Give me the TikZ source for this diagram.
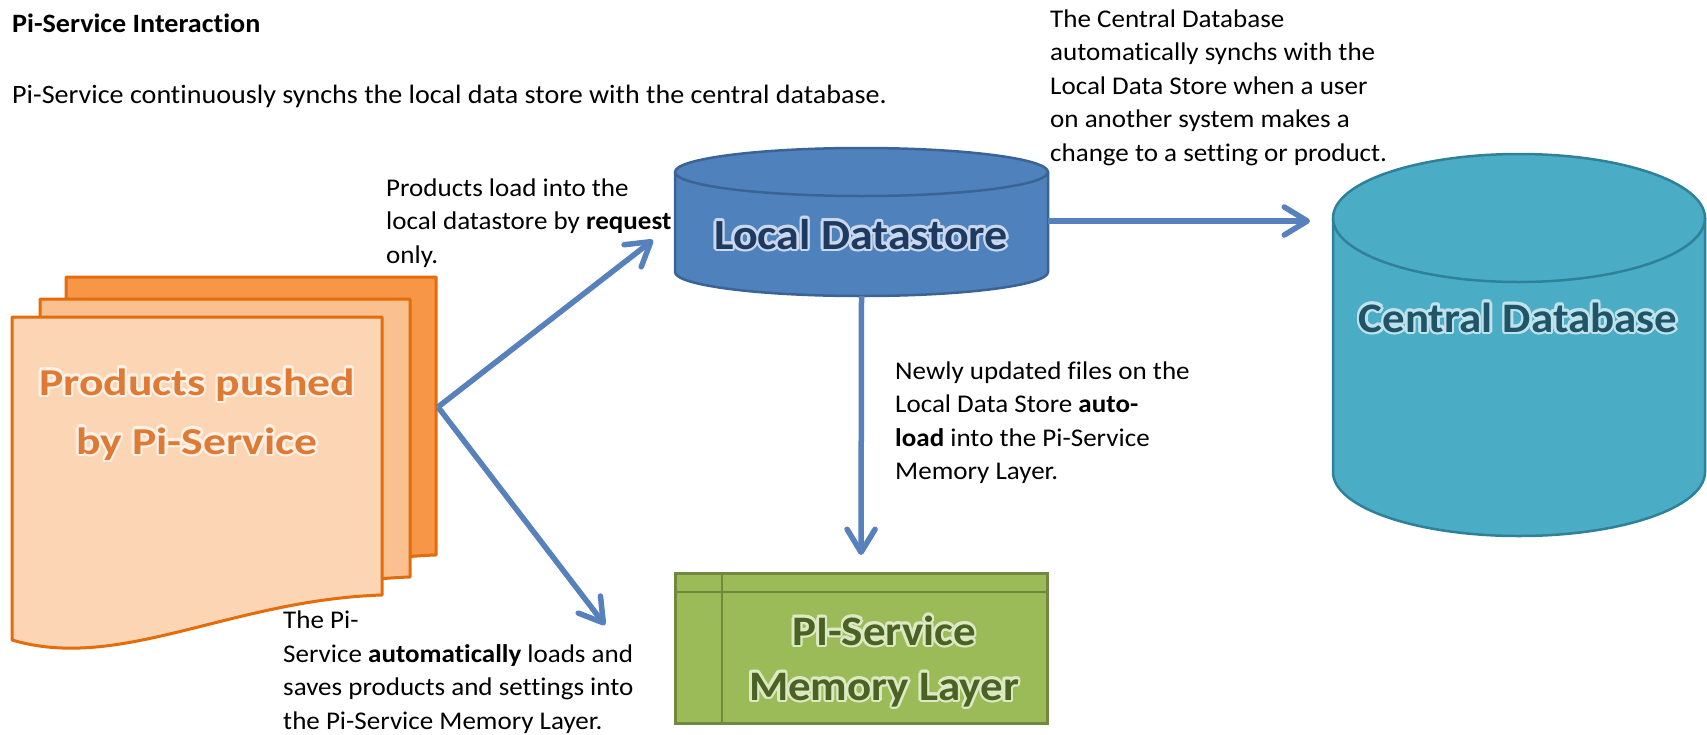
\documentclass[tikz,border=0pt]{standalone}
\usepackage{fontspec}
\usetikzlibrary{arrows.meta,calc}
\setmainfont{Carlito}[FakeStretch=1.06, Ligatures=NoCommon]
\newfontfamily\prodfont{Carlito}[FakeStretch=1.2, Ligatures=NoCommon]
\newfontfamily\shapefont{Carlito}[FakeStretch=1.07, Ligatures=NoCommon]

\definecolor{docBack}{HTML}{F79646}
\definecolor{docMid}{HTML}{FAC090}
\definecolor{docFront}{HTML}{FCD5B4}
\definecolor{docLine}{HTML}{E46C0A}
\definecolor{docText}{HTML}{DF7A35}
\definecolor{docGlow}{HTML}{FFF1E6}
\definecolor{localFill}{HTML}{4F81BD}
\definecolor{localLine}{HTML}{3A6396}
\definecolor{localText}{HTML}{1F3A60}
\definecolor{localGlow}{HTML}{C9D8EE}
\definecolor{centralFill}{HTML}{4BACC6}
\definecolor{centralLine}{HTML}{2F8199}
\definecolor{centralText}{HTML}{1F5566}
\definecolor{centralGlow}{HTML}{BFE3EC}
\definecolor{memFill}{HTML}{9BBB59}
\definecolor{memLine}{HTML}{71893F}
\definecolor{memText}{HTML}{4A6223}
\definecolor{memGlow}{HTML}{DDE9C3}
\definecolor{arrowBlue}{HTML}{5681BC}

% label with a soft halo: x,y of last baseline, name, font, halo colour, text colour, text
\newcommand\glowlabel[6]{%
  \foreach \ang in {0,30,...,330}
    \node[inner sep=0, anchor=base, font=#3, text=#4, align=center]
      at ([shift={(\ang:2.4pt)}]#1) {#6};
  \node[inner sep=0, anchor=base, font=#3, text=#5, align=center] (#2) at (#1) {#6};
}

\begin{document}
\begin{tikzpicture}[x=1pt, y=-1pt,
  bodytext/.style={inner sep=0, anchor=base west, align=left,
    font=\fontsize{26.5}{33.5}\selectfont},
  notetext/.style={bodytext, font=\fontsize{25.5}{33.5}\selectfont},
  flow/.style={draw=arrowBlue, line width=5.5pt,
    -{Straight Barb[length=23pt, width=28pt, round]}},
  pagebox/.style={draw=docLine, line width=3pt, line join=round},
  area/.style={inner sep=0, outer sep=0}]

\useasboundingbox[fill=white] (0,0) rectangle (1707,734);

% ---- title and intro ----
\node[bodytext, font=\fontsize{26.5}{33.5}\selectfont\bfseries] (title) at (12,32) {Pi-Service Interaction};
\node[bodytext] (intro) at (12,103) {Pi-Service continuously synchs the local data store with the central database.};

% ---- stack of product pages ----
\def\pagepath{(12,317) -- (382,317) -- (382,595) .. controls (230,600) and (120,672) .. (12,640) -- cycle}
\begin{scope}[shift={(54,-40)}]
  \filldraw[pagebox, fill=docBack] \pagepath;
\end{scope}
\begin{scope}[shift={(28,-18)}]
  \filldraw[pagebox, fill=docMid] \pagepath;
\end{scope}
\filldraw[pagebox, fill=docFront] \pagepath;
\coordinate (stack) at (438,407);
\glowlabel{197,454}{products}{\fontsize{38}{59}\selectfont\prodfont\bfseries}{docGlow}{docText}{Products pushed\\by Pi-Service}

% ---- local datastore cylinder ----
\node[area, minimum width=373pt, minimum height=148pt] (local) at (861.5,222) {};
\filldraw[fill=localFill, draw=localLine, line width=2.5pt]
  (675,172) -- (675,272)
  arc[start angle=180, end angle=360, x radius=186.5pt, y radius=24pt]
  -- (1048,172)
  arc[start angle=0, end angle=180, x radius=186.5pt, y radius=24pt] -- cycle;
\draw[localLine, line width=2.5pt]
  (675,172) arc[start angle=180, end angle=360, x radius=186.5pt, y radius=24pt];
\glowlabel{861,249}{localtxt}{\fontsize{43}{50}\selectfont\shapefont\bfseries}{localGlow}{localText}{Local Datastore}

% ---- central database cylinder ----
\node[area, minimum width=372pt, minimum height=382pt] (central) at (1519,345) {};
\filldraw[fill=centralFill, draw=centralLine, line width=2.5pt]
  (1333,218) -- (1333,472)
  arc[start angle=180, end angle=360, x radius=186pt, y radius=64pt]
  -- (1705,218)
  arc[start angle=0, end angle=180, x radius=186pt, y radius=64pt] -- cycle;
\draw[centralLine, line width=2.5pt]
  (1333,218) arc[start angle=180, end angle=360, x radius=186pt, y radius=64pt];
\glowlabel{1518,332}{centraltxt}{\fontsize{42}{50}\selectfont\shapefont\bfseries}{centralGlow}{centralText}{Central Database}

% ---- memory layer ----
\node[area, draw=memLine, fill=memFill, line width=3pt, minimum width=372pt, minimum height=150pt] (memory) at (861,648) {};
\draw[memLine, line width=2.5pt] (memory.north west |- 0,592) -- (memory.north east |- 0,592);
\draw[memLine, line width=2.5pt] (722,573) -- (722,723);
\glowlabel{884,700}{memtxt}{\fontsize{42}{55}\selectfont\shapefont\bfseries}{memGlow}{memText}{PI-Service\\Memory Layer}

% ---- connectors ----
\draw[flow] (stack) -- ([shift={(-22,18)}]local.west);
\draw[flow] (stack) -- ([shift={(-70,52)}]memory.north west);
\draw[flow, shorten >=23pt] ([yshift=1pt]local.east) -- ([yshift=1pt]local.east -| central.west);
\draw[flow, shorten >=18pt] (local.south) -- (memory.north);

% ---- annotations (placed by the baseline of their last line) ----
\node[notetext] (noteRequest) at (386,263)
  {Products load into the\\local datastore by \textbf{request}\\only.};
\node[notetext] (noteCentral) at (1050,161)
  {The Central Database\\automatically synchs with the\\Local Data Store when a user\\on another system makes a\\change to a setting or product.};
\node[notetext] (noteAuto) at (895,479.5)
  {Newly updated files on the\\Local Data Store \textbf{auto-}\\\textbf{load} into the Pi-Service\\Memory Layer.};
\node[notetext] (notePush) at (283,729)
  {The Pi-\\Service \textbf{automatically} loads and\\saves products and settings into\\the Pi-Service Memory Layer.};

\end{tikzpicture}
\end{document}
